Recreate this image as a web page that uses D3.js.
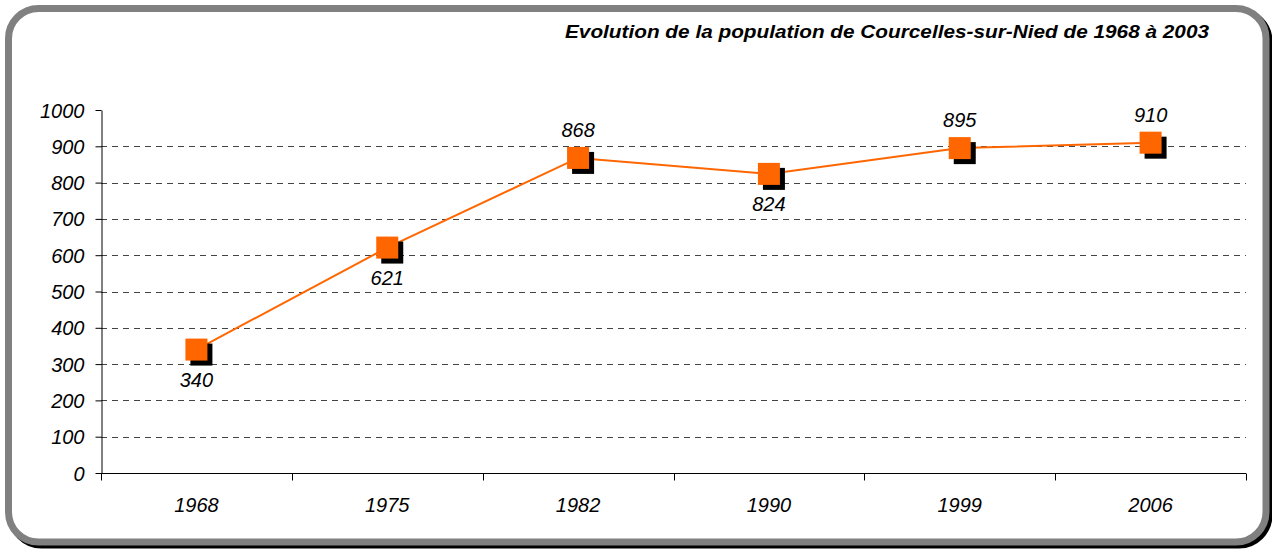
<!DOCTYPE html>
<html>
<head>
  <meta charset="utf-8">
  <title>Courcelles-sur-Nied</title>
<style>
body{ margin:0; background:#fff; }
text{ font-family:"Liberation Sans", Arial, sans-serif; font-style:italic; }
</style>
<script src="https://cdn.jsdelivr.net/npm/d3@7/dist/d3.min.js"></script>
</head>
<body>
<script>

var years = ["1968", "1975", "1982", "1990", "1999", "2006"];
var population = [340, 621, 868, 824, 895, 910];
var labelPos = ["below", "below", "above", "below", "above", "above"];
var yTicks = [0, 100, 200, 300, 400, 500, 600, 700, 800, 900, 1000];
var title = "Evolution de la population de Courcelles-sur-Nied de 1968 à 2003";

var width = 1272, height = 550;
var plot = { left: 101, right: 1246, top: 110, bottom: 473 };

var svg = d3.select("body").append("svg").attr("width", width).attr("height", height);

// cadre arrondi + ombre
svg.append("rect")
  .attr("x", 11.5).attr("y", 11.5).attr("width", 1257.5).attr("height", 533.5)
  .attr("rx", 30).attr("ry", 30)
  .attr("fill", "none").attr("stroke", "#000").attr("stroke-width", 7);
svg.append("rect")
  .attr("x", 8.5).attr("y", 8.5).attr("width", 1257.5).attr("height", 533.5)
  .attr("rx", 30).attr("ry", 30)
  .attr("fill", "#fff").attr("stroke", "#808080").attr("stroke-width", 7);

svg.append("text")
  .attr("x", 1209).attr("y", 38)
  .attr("text-anchor", "end")
  .attr("font-size", "19px")
  .attr("font-weight", "bold")
  .attr("textLength", 644)
  .attr("lengthAdjust", "spacingAndGlyphs")
  .text(title);

var xScale = d3.scaleBand().domain(years).range([plot.left, plot.right]);
var yScale = d3.scaleLinear().domain([0, 1000]).range([plot.bottom, plot.top]);

// grille
svg.append("g").selectAll("line")
  .data(yTicks.filter(function(d) { return d > 0 && d < 1000; }))
  .enter().append("line")
  .attr("x1", plot.left).attr("x2", plot.right)
  .attr("y1", function(d) { return Math.round(yScale(d)) + 0.5; })
  .attr("y2", function(d) { return Math.round(yScale(d)) + 0.5; })
  .attr("stroke", "#444").attr("stroke-width", 1)
  .attr("stroke-dasharray", "6,5");

// axes
var axisY = svg.append("g")
  .attr("transform", "translate(" + (plot.left + 0.5) + ",0)")
  .call(d3.axisLeft(yScale).tickValues(yTicks).tickFormat(d3.format("d"))
    .tickSize(6).tickSizeOuter(0).tickPadding(11));
axisY.selectAll("text").attr("font-size", "20px").attr("fill", "#000").attr("dy", "0.35em");
axisY.selectAll("line, path").attr("stroke", "#000");

var axisX = svg.append("g")
  .attr("transform", "translate(0," + (plot.bottom + 0.5) + ")");
axisX.append("line")
  .attr("x1", plot.left).attr("x2", plot.right)
  .attr("stroke", "#000");
axisX.selectAll(".tk")
  .data(years.concat(["end"]))
  .enter().append("line")
  .attr("class", "tk")
  .attr("x1", function(d, i) { return Math.round(plot.left + i * xScale.bandwidth()) + 0.5; })
  .attr("x2", function(d, i) { return Math.round(plot.left + i * xScale.bandwidth()) + 0.5; })
  .attr("y1", 0).attr("y2", 7)
  .attr("stroke", "#000");
axisX.selectAll("text")
  .data(years)
  .enter().append("text")
  .attr("x", function(d) { return xScale(d) + xScale.bandwidth() / 2; })
  .attr("y", 38)
  .attr("text-anchor", "middle")
  .attr("font-size", "20px")
  .text(function(d) { return d; });

// série
var cx = function(d, i) { return xScale(years[i]) + xScale.bandwidth() / 2; };
var cy = function(d) { return yScale(d); };

svg.append("path")
  .datum(population)
  .attr("fill", "none")
  .attr("stroke", "#FF6600")
  .attr("stroke-width", 2)
  .attr("d", d3.line().x(cx).y(cy));

var s = 22;
svg.append("g").selectAll("rect")
  .data(population).enter().append("rect")
  .attr("x", function(d, i) { return cx(d, i) - s / 2 + 5; })
  .attr("y", function(d) { return cy(d) - s / 2 + 5; })
  .attr("width", s).attr("height", s)
  .attr("fill", "#000");

svg.append("g").selectAll("rect")
  .data(population).enter().append("rect")
  .attr("x", function(d, i) { return cx(d, i) - s / 2; })
  .attr("y", function(d) { return cy(d) - s / 2; })
  .attr("width", s).attr("height", s)
  .attr("fill", "#FF6600");

svg.append("g").selectAll("text")
  .data(population).enter().append("text")
  .attr("x", cx)
  .attr("y", function(d, i) { return labelPos[i] == "above" ? cy(d) - 21 : cy(d) + 37; })
  .attr("text-anchor", "middle")
  .attr("font-size", "20px")
  .text(function(d) { return d; });

</script>
</body>
</html>
